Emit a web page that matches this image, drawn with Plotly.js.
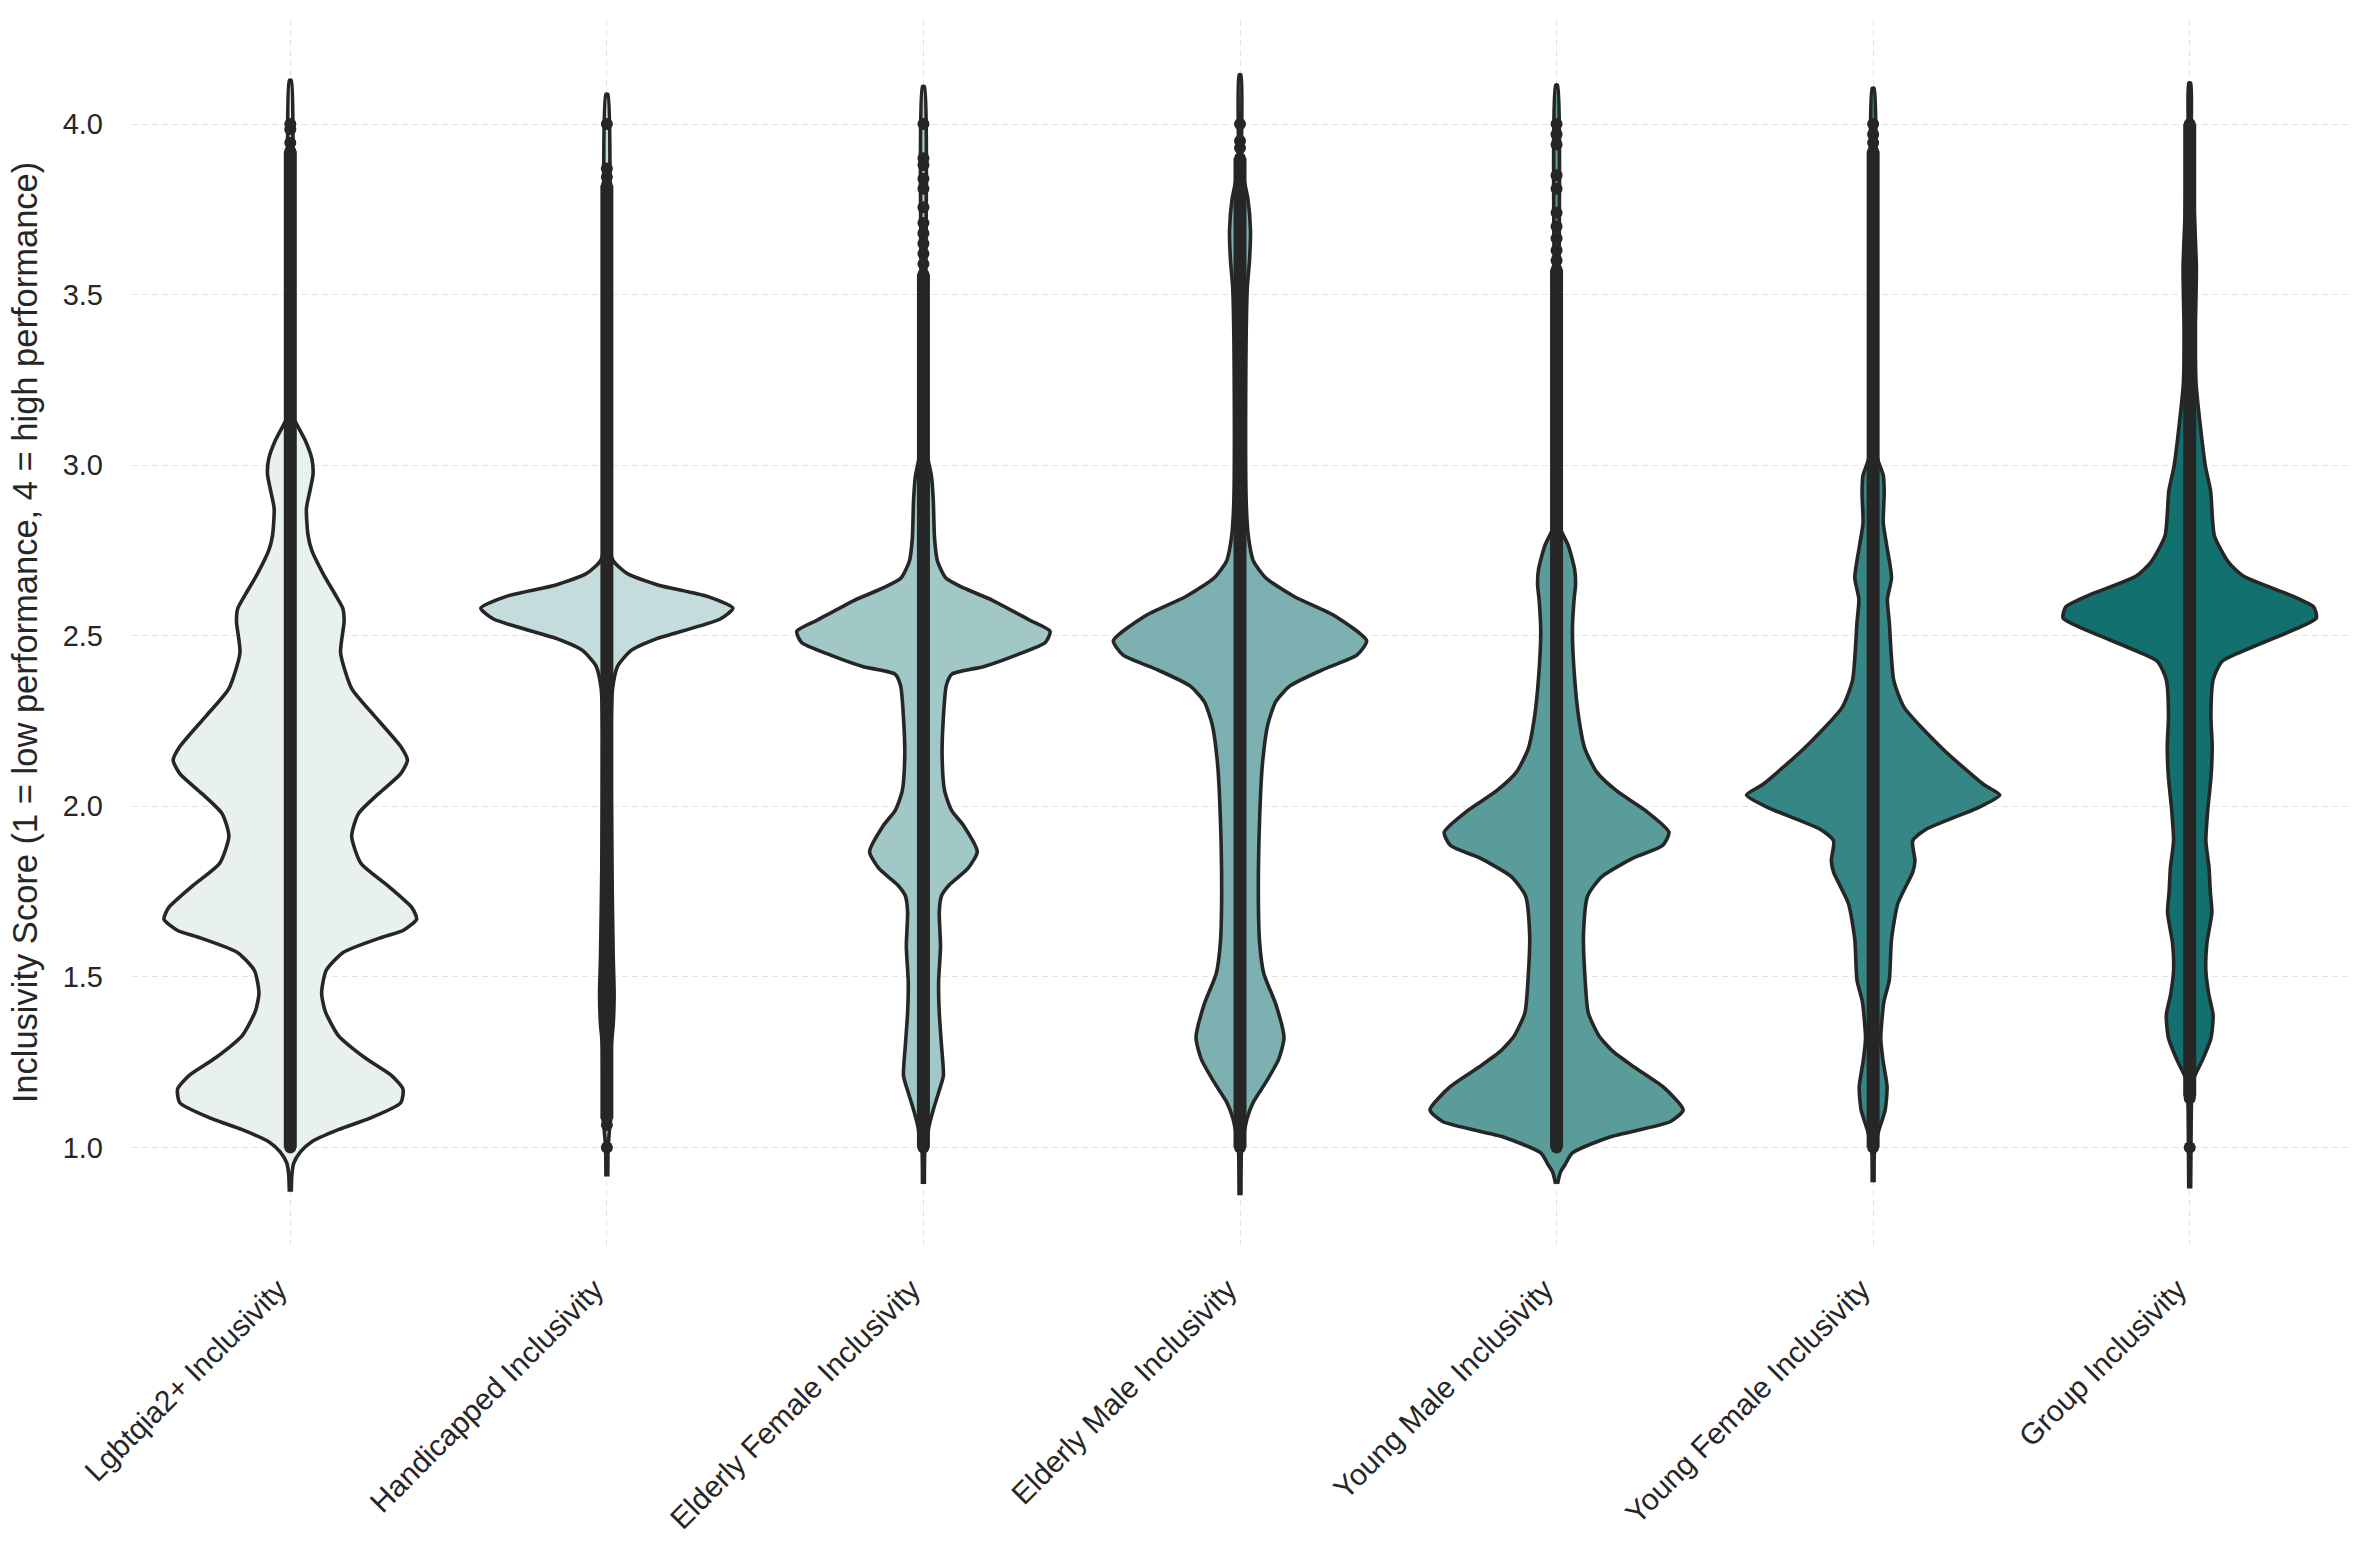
<!DOCTYPE html>
<html lang="en">
<head>
  <meta charset="UTF-8">
  <title>Inclusivity Score Violins</title>
  <script src="https://cdn.plot.ly/plotly-3.0.1.min.js"></script>
  <style>
    body { margin: 0; background: #ffffff; }
    #chart { width: 2368px; height: 1568px; }
  </style>
</head>
<body>
  <div id="chart"></div>
  <script>
    // categories along the x axis
    const categories = [
      "Lgbtqia2+ Inclusivity", "Handicapped Inclusivity", "Elderly Female Inclusivity",
      "Elderly Male Inclusivity", "Young Male Inclusivity", "Young Female Inclusivity",
      "Group Inclusivity"
    ];

    // density outlines: score level and violin half width (category units)
    const lgbtqScore = [0.87, 0.92, 0.954, 0.987, 1.017, 1.052, 1.085, 1.131, 1.171, 1.21, 1.262, 1.328, 1.40, 1.453, 1.518, 1.571, 1.617, 1.636, 1.669, 1.702, 1.768, 1.833, 1.912, 1.978, 2.037, 2.096, 2.135, 2.175, 2.266, 2.345, 2.45, 2.542, 2.58, 2.616, 2.683, 2.75, 2.795, 2.873, 2.929, 2.974, 3.019, 3.075, 3.137, 3.165, 4.128];
    const lgbtqWidth = [0.003, 0.005, 0.011, 0.032, 0.068, 0.152, 0.25, 0.349, 0.356, 0.321, 0.237, 0.152, 0.11, 0.099, 0.113, 0.166, 0.293, 0.356, 0.399, 0.385, 0.307, 0.223, 0.194, 0.215, 0.279, 0.349, 0.37, 0.349, 0.265, 0.194, 0.159, 0.170, 0.166, 0.145, 0.103, 0.068, 0.056, 0.051, 0.063, 0.072, 0.068, 0.046, 0.011, 0.004, 0.003];

    const handicappedScore = [0.915, 1.0, 1.05, 1.15, 1.30, 1.36, 1.45, 1.56, 1.82, 2.21, 2.345, 2.411, 2.457, 2.49, 2.549, 2.581, 2.616, 2.649, 2.683, 2.72, 2.76, 3.0, 4.087];
    const handicappedWidth = [0.003, 0.004, 0.008, 0.012, 0.014, 0.02, 0.023, 0.02, 0.016, 0.013, 0.018, 0.034, 0.077, 0.154, 0.358, 0.398, 0.315, 0.161, 0.063, 0.02, 0.008, 0.004, 0.003];

    const elderlyFemaleScore = [0.893, 1.0, 1.03, 1.064, 1.11, 1.167, 1.21, 1.30, 1.395, 1.486, 1.59, 1.69, 1.737, 1.77, 1.817, 1.867, 1.943, 1.988, 2.045, 2.148, 2.26, 2.353, 2.387, 2.41, 2.444, 2.48, 2.513, 2.547, 2.604, 2.64, 2.67, 2.72, 2.787, 2.90, 2.97, 3.015, 3.06, 3.2, 4.11];
    const elderlyFemaleWidth = [0.003, 0.005, 0.012, 0.018, 0.031, 0.05, 0.063, 0.057, 0.05, 0.048, 0.054, 0.05, 0.057, 0.082, 0.14, 0.17, 0.127, 0.089, 0.067, 0.059, 0.063, 0.072, 0.089, 0.192, 0.295, 0.385, 0.40, 0.333, 0.218, 0.127, 0.07, 0.044, 0.035, 0.031, 0.025, 0.015, 0.006, 0.004, 0.003];

    const elderlyMaleScore = [0.86, 1.0, 1.03, 1.087, 1.133, 1.19, 1.258, 1.322, 1.42, 1.51, 1.60, 1.737, 1.965, 2.125, 2.24, 2.307, 2.353, 2.40, 2.444, 2.485, 2.558, 2.615, 2.67, 2.72, 2.787, 2.88, 3.2, 3.52, 3.60, 3.69, 3.78, 3.84, 3.9, 4.144];
    const elderlyMaleWidth = [0.003, 0.005, 0.01, 0.023, 0.042, 0.081, 0.122, 0.139, 0.113, 0.075, 0.062, 0.058, 0.062, 0.071, 0.088, 0.113, 0.158, 0.26, 0.37, 0.40, 0.30, 0.171, 0.081, 0.042, 0.027, 0.02, 0.018, 0.023, 0.03, 0.033, 0.025, 0.012, 0.005, 0.003];

    const youngMaleScore = [0.893, 0.927, 0.95, 0.984, 1.03, 1.076, 1.11, 1.178, 1.235, 1.28, 1.327, 1.395, 1.51, 1.623, 1.737, 1.794, 1.85, 1.885, 1.924, 1.988, 2.045, 2.10, 2.17, 2.26, 2.376, 2.513, 2.604, 2.65, 2.695, 2.764, 2.81, 2.85, 4.114];
    const youngMaleWidth = [0.003, 0.012, 0.027, 0.05, 0.166, 0.36, 0.40, 0.336, 0.246, 0.18, 0.134, 0.10, 0.089, 0.085, 0.098, 0.143, 0.246, 0.335, 0.355, 0.28, 0.19, 0.127, 0.089, 0.07, 0.057, 0.05, 0.055, 0.06, 0.057, 0.037, 0.014, 0.005, 0.003];

    const youngFemaleScore = [0.898, 1.0, 1.05, 1.11, 1.177, 1.256, 1.32, 1.427, 1.49, 1.61, 1.715, 1.807, 1.84, 1.899, 1.932, 1.997, 2.033, 2.063, 2.168, 2.29, 2.37, 2.54, 2.607, 2.67, 2.764, 2.83, 2.92, 2.97, 3.015, 3.06, 4.105];
    const youngFemaleWidth = [0.003, 0.005, 0.018, 0.038, 0.044, 0.031, 0.024, 0.034, 0.051, 0.058, 0.078, 0.125, 0.132, 0.125, 0.166, 0.334, 0.40, 0.35, 0.22, 0.098, 0.065, 0.051, 0.045, 0.058, 0.043, 0.032, 0.035, 0.032, 0.015, 0.005, 0.003];

    const groupScore = [0.88, 1.0, 1.144, 1.203, 1.256, 1.32, 1.387, 1.45, 1.518, 1.597, 1.689, 1.75, 1.82, 1.899, 1.99, 2.083, 2.175, 2.266, 2.371, 2.424, 2.453, 2.52, 2.552, 2.584, 2.617, 2.675, 2.715, 2.793, 2.924, 3.0, 3.24, 3.4, 3.578, 3.75, 3.9, 4.0, 4.12];
    const groupWidth = [0.003, 0.004, 0.006, 0.013, 0.04, 0.067, 0.074, 0.06, 0.051, 0.054, 0.07, 0.065, 0.061, 0.051, 0.057, 0.067, 0.071, 0.067, 0.074, 0.101, 0.162, 0.335, 0.40, 0.392, 0.323, 0.169, 0.123, 0.078, 0.066, 0.049, 0.02, 0.018, 0.021, 0.014, 0.008, 0.005, 0.003];

    // observations: dense run (drawn as one thick stroke) and the separate dots
    const denseLow = [1.0, 1.085, 1.0, 1.0, 1.0, 1.0, 1.15];
    const denseHigh = [3.92, 3.82, 3.56, 3.90, 3.573, 3.92, 4.0];
    const lgbtqPoints = [4.0, 3.985, 3.945];
    const handicappedPoints = [4.0, 3.87, 3.845, 1.066, 1.0];
    const elderlyFemalePoints = [4.0, 3.90, 3.88, 3.84, 3.81, 3.756, 3.71, 3.68, 3.65, 3.62, 3.59];
    const elderlyMalePoints = [4.0, 3.95, 3.93];
    const youngMalePoints = [4.0, 3.97, 3.94, 3.85, 3.81, 3.74, 3.70, 3.665, 3.63, 3.6];
    const youngFemalePoints = [4.0, 3.97, 3.945];
    const groupPoints = [1.0, 1.144];

    const yTicks = [1.0, 1.5, 2.0, 2.5, 3.0, 3.5, 4.0];

    const fills = ["#e8f1f0", "#c5dcdd", "#a1c8c7", "#7db0b0", "#599c9a", "#368685", "#12706e"];
    const ink = "#262626";

    const shapes = [
      [lgbtqScore, lgbtqWidth, lgbtqPoints],
      [handicappedScore, handicappedWidth, handicappedPoints],
      [elderlyFemaleScore, elderlyFemaleWidth, elderlyFemalePoints],
      [elderlyMaleScore, elderlyMaleWidth, elderlyMalePoints],
      [youngMaleScore, youngMaleWidth, youngMalePoints],
      [youngFemaleScore, youngFemaleWidth, youngFemalePoints],
      [groupScore, groupWidth, groupPoints]
    ];

    let traces = [];
    shapes.forEach(([score, width, pts], i) => {
      // right side going up, left side coming down
      let xs = score.map((s, k) => i + width[k]);
      let ys = score.slice();
      for (let k = score.length - 1; k >= 0; k--) {
        xs.push(i - width[k]);
        ys.push(score[k]);
      }
      traces.push({
        x: xs, y: ys, type: "scatter", mode: "lines",
        fill: "toself", fillcolor: fills[i],
        line: { color: ink, width: 3.6, shape: "spline", smoothing: 0.6 },
        hoverinfo: "skip"
      });
      traces.push({
        x: [i, i], y: [denseLow[i], denseHigh[i]], type: "scatter", mode: "lines",
        line: { color: ink, width: 13 }, hoverinfo: "skip"
      });
      let dots = pts.concat([denseLow[i], denseHigh[i]]);
      traces.push({
        x: dots.map(() => i), y: dots, type: "scatter", mode: "markers",
        marker: { color: ink, size: 12 }, hoverinfo: "skip"
      });
    });

    const layout = {
      width: 2368,
      height: 1568,
      margin: { l: 132, r: 20, t: 20, b: 323 },
      paper_bgcolor: "#ffffff",
      plot_bgcolor: "#ffffff",
      showlegend: false,
      font: { family: "Liberation Sans, Arial, sans-serif", color: ink },
      xaxis: {
        range: [-0.5, 6.5],
        tickvals: categories.map((c, i) => i),
        ticktext: categories,
        tickangle: -45,
        tickfont: { size: 30, color: ink },
        ticklabelshift: -12,
        ticklabelstandoff: 20,
        showgrid: true,
        gridcolor: "#e3e3e3",
        griddash: "6px,4px",
        gridwidth: 1,
        zeroline: false,
        showline: false,
        ticks: ""
      },
      yaxis: {
        range: [0.714, 4.305],
        tickvals: yTicks,
        ticktext: yTicks.map(v => v.toFixed(1)),
        tickfont: { size: 29, color: ink },
        ticklabelstandoff: 28,
        showgrid: true,
        gridcolor: "#e3e3e3",
        griddash: "6px,4px",
        gridwidth: 1,
        zeroline: false,
        showline: false,
        ticks: "",
        title: {
          text: "Inclusivity Score (1 = low performance, 4 = high performance)",
          font: { size: 34.5, color: ink },
          standoff: 14
        }
      }
    };

    Plotly.newPlot("chart", traces, layout, { staticPlot: true });
  </script>
</body>
</html>
